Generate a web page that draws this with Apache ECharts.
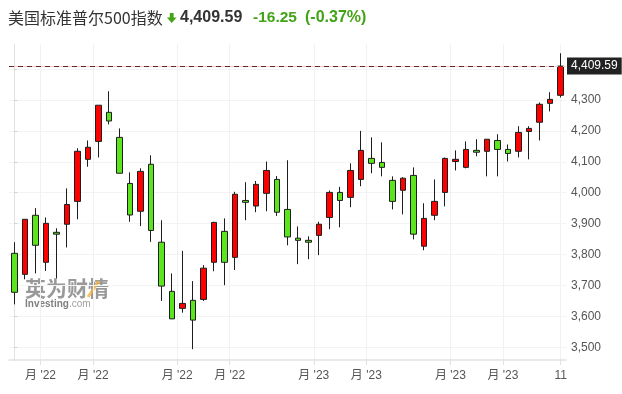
<!DOCTYPE html>
<html><head><meta charset="utf-8">
<script src="https://cdn.jsdelivr.net/npm/echarts@6/dist/echarts.min.js"></script>
<style>html,body{margin:0;padding:0;background:#fff}#c{width:622px;height:394px}</style>
</head><body><div id="c"></div>
<script>
// Weekly candles (week start dates)
const categories = [
 '2022-06-13','2022-06-21','2022-06-27','2022-07-05','2022-07-11','2022-07-18','2022-07-25',
 '2022-08-01','2022-08-08','2022-08-15','2022-08-22','2022-08-29','2022-09-06','2022-09-12',
 '2022-09-19','2022-09-26','2022-10-03','2022-10-10','2022-10-17','2022-10-24','2022-10-31',
 '2022-11-07','2022-11-14','2022-11-21','2022-11-28','2022-12-05','2022-12-12','2022-12-19',
 '2022-12-27','2023-01-03','2023-01-09','2023-01-17','2023-01-23','2023-01-30','2023-02-06',
 '2023-02-13','2023-02-21','2023-02-27','2023-03-06','2023-03-13','2023-03-20','2023-03-27',
 '2023-04-03','2023-04-10','2023-04-17','2023-04-24','2023-05-01','2023-05-08','2023-05-15',
 '2023-05-22','2023-05-30','2023-06-05','2023-06-12'
];
const opens = [3804,3736,3927,3775,3872,3898,3972,4108,4166,4260,4179,4030,3940,4092,3840,3681,3626,3652,3655,3775,3875,3791,3975,3957,3998,4043,3946,3853,3846,3862,3920,4001,3985,4043,4111,4098,4040,4008,4056,3827,3927,4001,4101,4082,4137,4134,4169,4140,4134,4198,4228,4289,4315];
const closes = [3678,3914,3830,3901,3866,3962,4134,4147,4283,4232,4063,3928,4069,3878,3698,3592,3642,3588,3756,3904,3775,3995,3969,4027,4072,3937,3857,3846,3840,3898,4001,3975,4072,4137,4095,4082,3972,4047,3866,3917,3972,4111,4108,4140,4131,4173,4140,4127,4195,4208,4286,4302,4409.59];
const lows = [3639,3720,3739,3747,3723,3823,3914,4084,4114,4221,4063,3906,3892,3841,3650,3592,3612,3494,3650,3746,3701,3750,3911,3937,3940,3925,3830,3769,3785,3798,3882,3888,3953,4021,4063,4053,3946,3930,3849,3814,3911,3956,4072,4079,4118,4053,4053,4101,4114,4108,4169,4263,4308];
const highs = [3840,3914,3950,3920,3885,4014,4144,4169,4283,4328,4208,4066,4079,4121,3911,3739,3812,3714,3766,3906,3917,4003,4034,4038,4101,4054,4105,3891,3859,3906,4007,4019,4095,4200,4179,4163,4053,4050,4082,3966,4043,4114,4137,4166,4173,4173,4189,4156,4215,4215,4292,4325,4451];
const lastPrice = 4409.59;
const changeText = '-16.25';
const changePctText = '(-0.37%)';
const titleText = '美国标准普尔500指数';
// x axis ticks (positions in week-index units) and labels
const xTickPos = [2.5, 7.5, 15.5, 20.5, 28.5, 33.5, 41.5, 46.5, 52];
const xTickLabels = ["月 '22","月 '22","月 '22","月 '22","月 '23","月 '23","月 '23","月 '23","11"];
// y axis ticks
const yTickValues = [3500,3600,3700,3800,3900,4000,4100,4200,4300,4400];
const yLabelValues = [3500,3600,3700,3800,3900,4000,4100,4200,4300];

const GREEN_TXT = '#43a317';
const chart = echarts.init(document.getElementById('c'), null, {renderer:'canvas'});
const fmt = v => Number(v).toLocaleString('en-US');
const option = {
  animation: false,
  backgroundColor: '#ffffff',
  grid: {left: 9, right: 56, top: 44, bottom: 34, containLabel: false},
  xAxis: [
    {type: 'category', data: categories, boundaryGap: true,
     axisLine: {show: false}, axisTick: {show: false}, axisLabel: {show: false}, splitLine: {show: false}},
    {type: 'value', min: -0.5, max: 52.5, position: 'bottom',
     axisLine: {show: true, onZero: false, lineStyle: {color: '#e2e2e2', width: 1.5}},
     axisTick: {show: true, customValues: xTickPos, length: 5, lineStyle: {color: '#e2e2e2'}},
     axisLabel: {show: true, customValues: xTickPos, margin: 10, color: '#555', fontSize: 12,
       fontFamily: '"Liberation Sans", "Noto Sans CJK SC", sans-serif',
       formatter: v => { const i = xTickPos.indexOf(v); return i >= 0 ? xTickLabels[i] : ''; }},
     splitLine: {show: true, lineStyle: {color: '#f1f1f1'}}}
  ],
  yAxis: {
    type: 'value', position: 'right', min: 3459, max: 4481, splitNumber: 10,
    axisLine: {show: true, lineStyle: {color: '#e2e2e2'}},
    axisTick: {show: true, customValues: yTickValues, length: 3, lineStyle: {color: '#cfcfcf'}},
    axisLabel: {show: true, customValues: yLabelValues, margin: 5, color: '#555', fontSize: 12,
      fontFamily: '"Liberation Sans", sans-serif',
      formatter: v => (v % 100 === 0 && v !== 4400) ? fmt(v) : ''},
    splitLine: {show: true, lineStyle: {color: '#f3f3f3'}}
  },
  series: [{
    type: 'candlestick', xAxisIndex: 0, yAxisIndex: 0, barWidth: 6,
    data: categories.map((c, i) => [opens[i], closes[i], lows[i], highs[i]]),
    itemStyle: {color: '#ff0000', color0: '#5ce41c', borderColor: '#1e1e1e', borderColor0: '#1e1e1e', borderWidth: 1},
    markLine: {
      symbol: 'none', silent: true, animation: false,
      data: [
        {yAxis: lastPrice, lineStyle: {color: '#f6c8c8', type: 'solid', width: 1}, label: {show: false}},
        {yAxis: lastPrice, lineStyle: {color: '#5e2c2c', type: [5, 4], width: 1},
         label: {show: true, position: 'end', distance: 1, formatter: () => fmt(lastPrice),
           backgroundColor: '#222', color: '#fff', fontSize: 12, padding: [3, 4, 2, 4],
           fontFamily: '"Liberation Sans", sans-serif'}}
      ]
    }
  }],
  graphic: [
    {type: 'text', z: 0, x: 25, y: 288, silent: true,
     style: {text: '英为财情', font: 'bold 21px "Noto Sans CJK SC"', fill: '#8e8e8e', verticalAlign: 'middle', opacity: 0.9}},
    {type: 'polyline', z: 0, silent: true, shape: {points: [[88, 297], [99, 281]]},
     style: {stroke: '#f2b43c', lineWidth: 3, opacity: 0.8}},
    {type: 'text', z: 0, x: 25, y: 304, silent: true,
     style: {text: '{a|Investing}{b|.com}', verticalAlign: 'middle',
       rich: {a: {font: 'bold 10px "Liberation Sans"', fill: '#7f7f7f'}, b: {font: '10px "Liberation Sans"', fill: '#a0a0a0'}}}},
    {type: 'text', x: 8, y: 17.5, style: {text: titleText, font: '16px "Noto Sans CJK SC"', fill: '#333', verticalAlign: 'middle'}},
    {type: 'polygon', shape: {points: [[169.8, 13], [173.6, 13], [173.6, 17.5], [176.5, 17.5], [171.7, 23], [166.9, 17.5], [169.8, 17.5]]},
     style: {fill: GREEN_TXT}},
    {type: 'text', x: 180, y: 18, style: {text: fmt(lastPrice), font: 'bold 16px "Liberation Sans"', fill: '#333', verticalAlign: 'middle'}},
    {type: 'text', x: 253, y: 18, style: {text: changeText, font: 'bold 15.5px "Liberation Sans"', fill: GREEN_TXT, verticalAlign: 'middle'}},
    {type: 'text', x: 305, y: 18, style: {text: changePctText, font: 'bold 16px "Liberation Sans"', fill: GREEN_TXT, verticalAlign: 'middle'}}
  ]
};
chart.setOption(option);
</script></body></html>
